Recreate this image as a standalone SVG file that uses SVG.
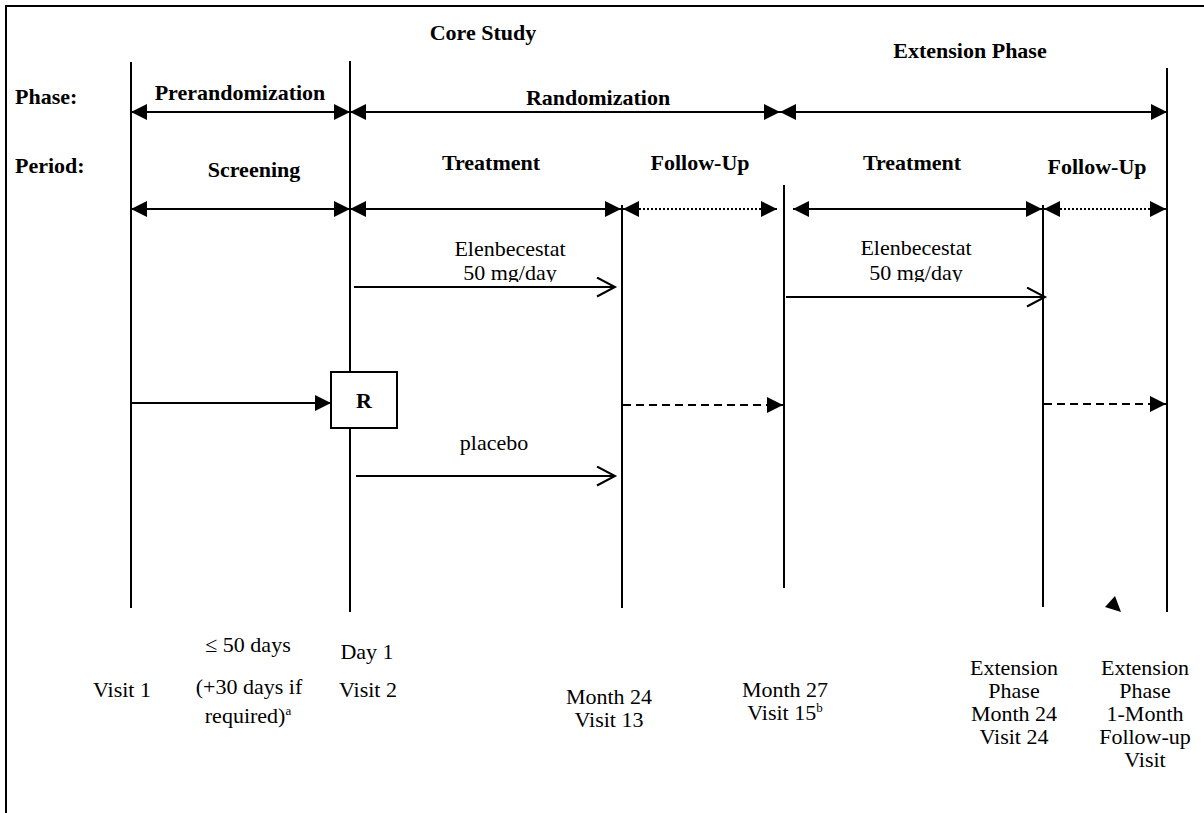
<svg xmlns="http://www.w3.org/2000/svg" width="1204" height="813" viewBox="0 0 1204 813">
<style>
text{font-family:"Liberation Serif","Times New Roman",serif;font-size:22px;fill:#000}
.b{font-weight:bold}
.m{text-anchor:middle}
.sup{font-size:13px}
.vl{stroke:#000;stroke-width:2;fill:none}
.ar{stroke:#000;stroke-width:2;fill:none}
.dot{stroke:#000;stroke-width:2;stroke-dasharray:2 2;fill:none}
.dash{stroke:#000;stroke-width:2;stroke-dasharray:8 5;fill:none}
</style>
<defs>
<marker id="tri" markerUnits="userSpaceOnUse" markerWidth="16" markerHeight="16" viewBox="0 0 15 15" refX="15" refY="7.5" orient="auto-start-reverse">
<path d="M0,0 L15,7.5 L0,15 z" fill="#000"/>
</marker>
<marker id="open" markerUnits="userSpaceOnUse" markerWidth="22" markerHeight="22" viewBox="0 0 20 22" refX="18" refY="10" orient="auto">
<path d="M0,0.5 L18,10 L0,19.5" fill="none" stroke="#000" stroke-width="2"/>
</marker>
<clipPath id="c1"><rect x="400" y="220" width="250" height="62"/></clipPath>
<clipPath id="c2"><rect x="800" y="220" width="250" height="62"/></clipPath>
</defs>

<rect width="1204" height="813" fill="#fff"/>
<path d="M6,813 V6 H1204" stroke="#000" stroke-width="2" fill="none"/>

<g id="timeline">
<line class="vl" x1="131" y1="62" x2="131" y2="608"/>
<line class="vl" x1="350" y1="61" x2="350" y2="372"/>
<line class="vl" x1="350" y1="428" x2="350" y2="612"/>
<line class="vl" x1="622" y1="205" x2="622" y2="608" stroke-width="1.6"/>
<line class="vl" x1="784" y1="185" x2="784" y2="588" stroke-width="1.6"/>
<line class="vl" x1="1043" y1="205" x2="1043" y2="607"/>
<line class="vl" x1="1167" y1="68" x2="1167" y2="612"/>
</g>

<g id="headers">
<text class="b m" x="483" y="40">Core Study</text>
<text class="b m" x="970" y="58">Extension Phase</text>
<text class="b" x="15" y="104">Phase:</text>
<text class="b m" x="240" y="100">Prerandomization</text>
<text class="b m" x="598" y="105">Randomization</text>
<text class="b" x="15" y="173">Period:</text>
<text class="b m" x="254" y="177">Screening</text>
<text class="b m" x="491" y="170">Treatment</text>
<text class="b m" x="700" y="170">Follow-Up</text>
<text class="b m" x="912" y="170">Treatment</text>
<text class="b m" x="1097" y="174">Follow-Up</text>
</g>

<g id="randomize">
<rect x="331" y="372" width="66" height="56" fill="#fff" stroke="#000" stroke-width="2"/>
<text class="b m" x="364" y="408">R</text>
</g>

<g id="treatment-labels">
<text class="m" x="510" y="256">Elenbecestat</text>
<g clip-path="url(#c1)"><text class="m" x="510" y="280">50 mg/day</text></g>
<text class="m" x="916" y="255">Elenbecestat</text>
<g clip-path="url(#c2)"><text class="m" x="916" y="280">50 mg/day</text></g>
<text class="m" x="494" y="450">placebo</text>
</g>

<g id="connectors">
<line class="ar" x1="131" y1="112" x2="350" y2="112" marker-start="url(#tri)" marker-end="url(#tri)"/>
<line class="ar" x1="350" y1="112" x2="780" y2="112" marker-start="url(#tri)" marker-end="url(#tri)"/>
<line class="ar" x1="780" y1="112" x2="1167" y2="112" marker-start="url(#tri)" marker-end="url(#tri)"/>
<line class="ar" x1="131" y1="209" x2="350" y2="209" marker-start="url(#tri)" marker-end="url(#tri)"/>
<line class="ar" x1="350" y1="209" x2="621" y2="209" marker-start="url(#tri)" marker-end="url(#tri)"/>
<line class="dot" x1="623" y1="209" x2="777" y2="209" marker-start="url(#tri)" marker-end="url(#tri)"/>
<line class="ar" x1="793" y1="209" x2="1042" y2="209" marker-start="url(#tri)" marker-end="url(#tri)"/>
<line class="dot" x1="1044" y1="209" x2="1166" y2="209" marker-start="url(#tri)" marker-end="url(#tri)"/>
<line class="ar" x1="354" y1="287" x2="615" y2="287" marker-end="url(#open)"/>
<line class="ar" x1="786" y1="297" x2="1045" y2="297" marker-end="url(#open)"/>
<line class="ar" x1="356" y1="476" x2="615" y2="476" marker-end="url(#open)"/>
<line class="ar" x1="131" y1="403" x2="331" y2="403" marker-end="url(#tri)"/>
<line class="dash" x1="623" y1="405" x2="783" y2="405" marker-end="url(#tri)"/>
<line class="dash" x1="1044" y1="404" x2="1166" y2="404" marker-end="url(#tri)"/>
<polygon points="1115,596 1105,607 1121,612" fill="#000"/>
</g>

<g id="visit1"><text class="m" x="122" y="697">Visit 1</text></g>
<g id="screening-window">
<text class="m" x="248" y="652">≤ 50 days</text>
<text class="m" x="249" y="694">(+30 days if</text>
<text class="m" x="248" y="723">required)<tspan class="sup" dy="-8">a</tspan></text>
</g>
<g id="visit2">
<text class="m" x="367" y="659">Day 1</text>
<text class="m" x="368" y="697">Visit 2</text>
</g>
<g id="visit13">
<text class="m" x="609" y="704">Month 24</text>
<text class="m" x="609" y="727">Visit 13</text>
</g>
<g id="visit15">
<text class="m" x="785" y="697">Month 27</text>
<text class="m" x="785" y="720">Visit 15<tspan class="sup" dy="-8">b</tspan></text>
</g>
<g id="visit24">
<text class="m" x="1014" y="675">Extension</text>
<text class="m" x="1014" y="698">Phase</text>
<text class="m" x="1014" y="721">Month 24</text>
<text class="m" x="1014" y="744">Visit 24</text>
</g>
<g id="followup-visit">
<text class="m" x="1145" y="675">Extension</text>
<text class="m" x="1145" y="698">Phase</text>
<text class="m" x="1145" y="721">1-Month</text>
<text class="m" x="1145" y="744">Follow-up</text>
<text class="m" x="1145" y="767">Visit</text>
</g>
</svg>
